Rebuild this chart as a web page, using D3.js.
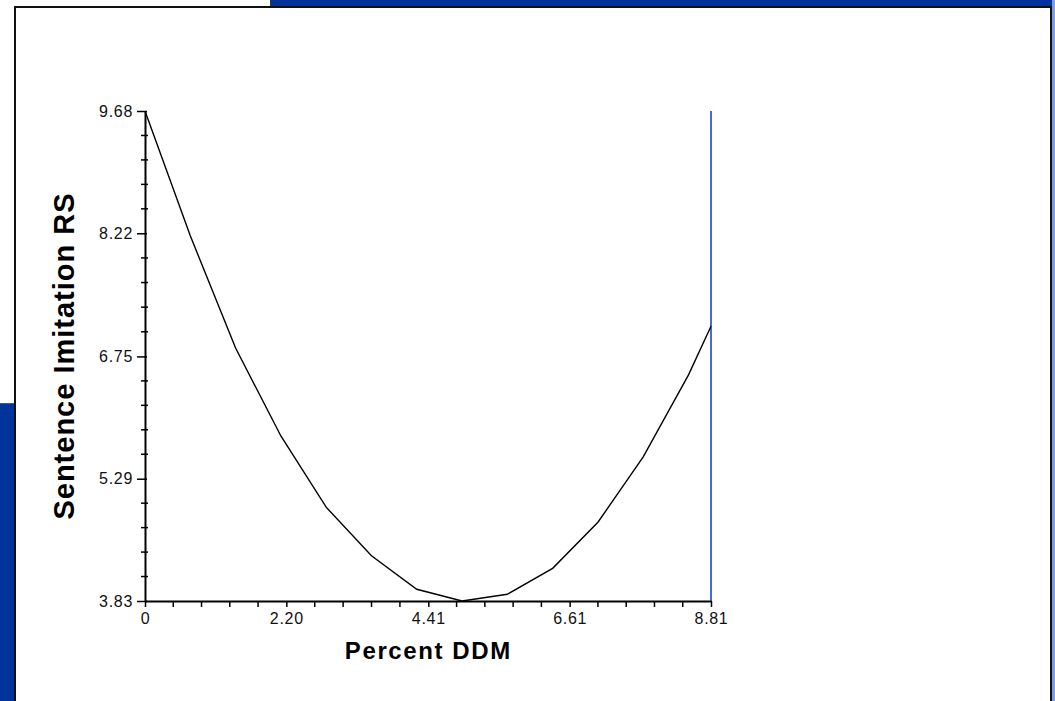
<!DOCTYPE html>
<html>
<head>
<meta charset="utf-8">
<script src="https://cdn.jsdelivr.net/npm/d3@7"></script>
<style>
  body { margin: 0; background: #fff; }
  svg { display: block; }
  text { font-family: "Liberation Sans", Arial, sans-serif; }
</style>
</head>
<body>
<div id="chart"></div>
<script>
// data
const xValues = [0, 0.705, 1.41, 2.115, 2.82, 3.525, 4.23, 4.935, 5.64, 6.345, 7.05, 7.755, 8.46, 8.81];
const yValues = [9.68, 8.19, 6.85, 5.80, 4.95, 4.37, 3.97, 3.83, 3.91, 4.22, 4.77, 5.55, 6.53, 7.11];
const xTickLabels = ["0", "2.20", "4.41", "6.61", "8.81"];
const yTickLabels = ["3.83", "5.29", "6.75", "8.22", "9.68"];
const xMarker = 8.81;

const W = 1055, H = 701;
const margin = {top: 111, left: 145, right: 344, bottom: 100};
const width = W - margin.left - margin.right;
const height = H - margin.top - margin.bottom;

const svg = d3.select("#chart").append("svg")
    .attr("width", W)
    .attr("height", H);

// window-ish backdrop
const blue = "#00339c";
svg.append("rect").attr("x", 0).attr("y", 0).attr("width", W).attr("height", H).attr("fill", "#fff");
svg.append("rect").attr("x", 271).attr("y", 0).attr("width", W - 271).attr("height", 7).attr("fill", blue);
svg.append("line").attr("x1", 270.5).attr("x2", 270.5).attr("y1", 0).attr("y2", 7).attr("stroke", "#333");
svg.append("rect").attr("x", 0).attr("y", 404).attr("width", 15).attr("height", H - 404).attr("fill", blue);
svg.append("line").attr("x1", 0).attr("x2", 15).attr("y1", 403.5).attr("y2", 403.5).attr("stroke", "#555");
svg.append("rect").attr("x", 1052).attr("y", 0).attr("width", 3).attr("height", H).attr("fill", "#7d9be0");
// main panel
svg.append("rect")
    .attr("x", 15).attr("y", 7)
    .attr("width", 1036).attr("height", H + 10)
    .attr("fill", "#fff")
    .attr("stroke", "#111")
    .attr("stroke-width", 2);

const g = svg.append("g")
    .attr("transform", "translate(" + margin.left + "," + margin.top + ")");

const x = d3.scaleLinear()
    .domain([0, 8.81])
    .range([0, width]);

const y = d3.scaleLinear()
    .domain([3.83, 9.68])
    .range([height, 0]);

const xMajor = xTickLabels.map(Number);
const yMajor = yTickLabels.map(Number);

// minor ticks, 4 between each pair of majors
function minors(major) {
    let out = [];
    for (let i = 0; i < major.length - 1; i++) {
        const step = (major[i + 1] - major[i]) / 5;
        for (let k = 1; k < 5; k++) out.push(major[i] + k * step);
    }
    return out;
}

// blue vertical marker
g.append("line")
    .attr("x1", x(xMarker)).attr("x2", x(xMarker))
    .attr("y1", y(9.68)).attr("y2", y(3.83))
    .attr("stroke", "#1a44d0")
    .attr("stroke-width", 1.6);

// curve
const line = d3.line()
    .x(function(d, i) { return x(xValues[i]); })
    .y(function(d) { return y(d); });

g.append("path")
    .datum(yValues)
    .attr("fill", "none")
    .attr("stroke", "#000")
    .attr("stroke-width", 1.4)
    .attr("d", line);

// y axis
const yAxis = d3.axisLeft(y)
    .tickValues(yMajor)
    .tickFormat(function(d, i) { return yTickLabels[i]; })
    .tickSizeInner(8)
    .tickSizeOuter(0)
    .tickPadding(4);

const yG = g.append("g").attr("class", "y-axis axis").call(yAxis);
yG.selectAll(".tick line").attr("x2", 2).attr("x1", -8).attr("stroke-width", 1.5);
yG.select(".domain").attr("stroke-width", 2);
yG.selectAll("text")
    .style("font-size", "16px")
    .attr("letter-spacing", 0.7)
    .attr("fill", "#111");

g.append("g").selectAll("line")
    .data(minors(yMajor))
    .join("line")
    .attr("x1", -4).attr("x2", 3)
    .attr("y1", d => y(d)).attr("y2", d => y(d))
    .attr("stroke", "#000")
    .attr("stroke-width", 1.5);

// x axis
const xAxis = d3.axisBottom(x)
    .tickValues(xMajor)
    .tickFormat(function(d, i) { return xTickLabels[i]; })
    .tickSizeInner(6)
    .tickSizeOuter(0)
    .tickPadding(6);

const xG = g.append("g")
    .attr("class", "x-axis axis")
    .attr("transform", "translate(0," + height + ")")
    .call(xAxis);
xG.select(".domain").attr("stroke-width", 2);
xG.selectAll(".tick line").attr("stroke-width", 1.5);
xG.selectAll("text")
    .style("font-size", "16px")
    .attr("letter-spacing", 0.7)
    .attr("fill", "#111");

xG.append("g").selectAll("line")
    .data(minors(xMajor))
    .join("line")
    .attr("x1", d => x(d)).attr("x2", d => x(d))
    .attr("y1", 0).attr("y2", 6)
    .attr("stroke", "#000")
    .attr("stroke-width", 1.5);

// axis titles
g.append("text")
    .attr("x", x(4.41))
    .attr("y", height + 58)
    .attr("text-anchor", "middle")
    .style("font-size", "24px")
    .attr("font-weight", "bold")
    .attr("letter-spacing", 1.6)
    .text("Percent DDM");

g.append("text")
    .attr("transform", "translate(" + (-71) + "," + (height / 2) + ") rotate(-90)")
    .attr("text-anchor", "middle")
    .style("font-size", "29px")
    .attr("font-weight", "bold")
    .attr("letter-spacing", 1)
    .text("Sentence Imitation RS");
</script>
</body>
</html>
